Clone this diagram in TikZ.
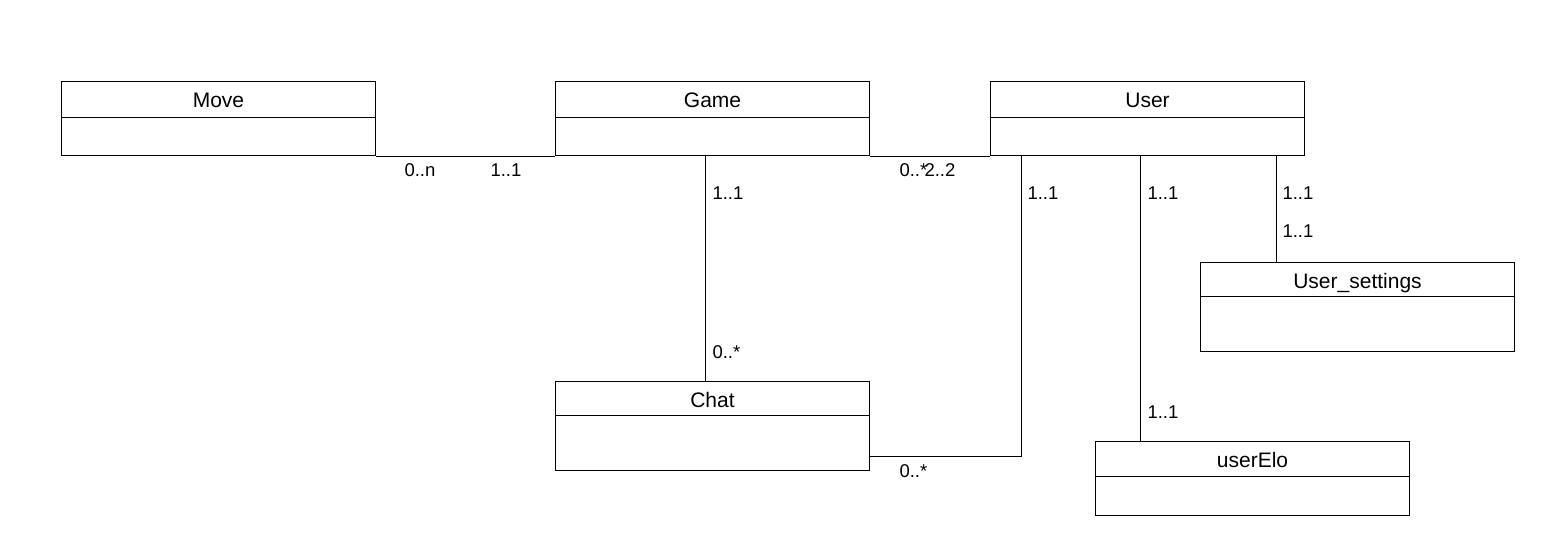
\documentclass[tikz,border=0pt]{standalone}
\usepackage{fontspec}
\setmainfont{Liberation Sans}
\usetikzlibrary{calc}
\begin{document}
\begin{tikzpicture}[x=1pt,y=-1pt,
  line width=1pt,
  classbox/.style={draw, rectangle, minimum width=314pt, inner sep=0pt, anchor=north west},
  classtitle/.style={font=\fontsize{21}{25}\selectfont, inner sep=0pt, anchor=base},
  mult/.style={font=\fontsize{18.5}{22}\selectfont, inner sep=0pt, anchor=base west},
  assoc/.style={draw, line width=1pt}]
\useasboundingbox (0,0) rectangle (1549,539);
\fill[white] (0,0) rectangle (1549,539);

% classes
\node[classbox, minimum height=74pt] (move) at (61,81) {};
\node[classbox, minimum height=74pt] (game) at (555,81) {};
\node[classbox, minimum height=74pt] (user) at (990,81) {};
\node[classbox, minimum height=89pt] (chat) at (555,381) {};
\node[classbox, minimum height=89pt] (settings) at (1200,262) {};
\node[classbox, minimum height=74pt] (elo) at (1095,441) {};

\draw ([yshift=-36pt]move.north west) -- ([yshift=-36pt]move.north east);
\draw ([yshift=-36pt]game.north west) -- ([yshift=-36pt]game.north east);
\draw ([yshift=-36pt]user.north west) -- ([yshift=-36pt]user.north east);
\draw ([yshift=-34pt]chat.north west) -- ([yshift=-34pt]chat.north east);
\draw ([yshift=-34pt]settings.north west) -- ([yshift=-34pt]settings.north east);
\draw ([yshift=-35pt]elo.north west) -- ([yshift=-35pt]elo.north east);

\node[classtitle] (moveT) at ($(move.north)+(0,26)$) {Move};
\node[classtitle] (gameT) at ($(game.north)+(0,26)$) {Game};
\node[classtitle] (userT) at ($(user.north)+(0,26)$) {User};
\node[classtitle] (chatT) at ($(chat.north)+(0,26)$) {Chat};
\node[classtitle] (settingsT) at ($(settings.north)+(0,26)$) {User\_settings};
\node[classtitle] (eloT) at ($(elo.north)+(0,26)$) {userElo};

% associations
\coordinate (ucBend) at (1021,456);
\draw[assoc] (move.south east) -- (game.south west);
\draw[assoc] (game.south east) -- (user.south west);
\draw[assoc] ([xshift=150pt]game.south west) -- ([xshift=150pt]chat.north west);
\draw[assoc] ([xshift=31pt]user.south west) -- (ucBend) -- (chat.east |- ucBend);
\draw[assoc] ([xshift=150pt]user.south west) -- ([xshift=45pt]elo.north west);
\draw[assoc] ([xshift=286pt]user.south west) -- ([xshift=76pt]settings.north west);

% multiplicities
\node[mult] (m1) at (404,176) {0..n};
\node[mult] (m2) at (490,176) {1..1};
\node[mult] (m3) at (899,176) {0..*};
\node[mult] (m4) at (924,176) {2..2};
\node[mult] (m5) at (712,199) {1..1};
\node[mult] (m6) at (712,358) {0..*};
\node[mult] (m7) at (1027,199) {1..1};
\node[mult] (m8) at (899,477) {0..*};
\node[mult] (m9) at (1147,199) {1..1};
\node[mult] (m10) at (1147,418) {1..1};
\node[mult] (m11) at (1282,199) {1..1};
\node[mult] (m12) at (1282,237) {1..1};
\end{tikzpicture}
\end{document}
